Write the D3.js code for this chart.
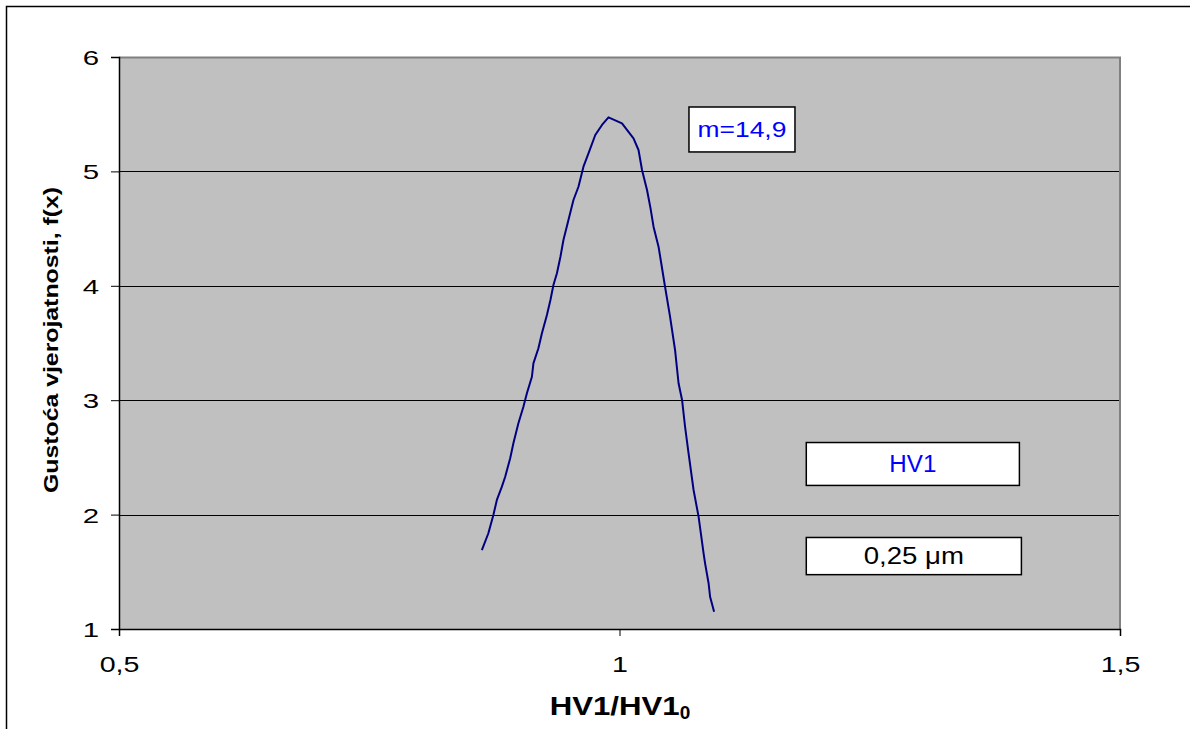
<!DOCTYPE html>
<html>
<head>
<meta charset="utf-8">
<script src="https://cdn.jsdelivr.net/npm/d3@7"></script>
<style>
html,body{margin:0;padding:0;background:#fff;}
svg{display:block;}
text{font-family:"Liberation Sans",Arial,Helvetica,sans-serif;}
</style>
</head>
<body>
<svg id="chart" width="1190" height="729"></svg>
<script>
// ---- data ----
const xTicks = [0.5, 1, 1.5];
const xTickLabels = ["0,5", "1", "1,5"];
const yTicks = [1, 2, 3, 4, 5, 6];
const yTickLabels = ["1", "2", "3", "4", "5", "6"];
const curveX = [0.8625,0.869,0.874,0.8775,0.8825,0.8858,0.8908,0.894,0.899,0.904,0.9075,0.9125,0.914,0.919,0.9225,0.9275,0.931,0.934,0.9375,0.941,0.944,0.949,0.954,0.959,0.964,0.969,0.9758,0.9825,0.989,1.0025,1.014,1.019,1.0225,1.0275,1.031,1.034,1.039,1.0417,1.0455,1.0505,1.0555,1.059,1.0625,1.0655,1.069,1.074,1.079,1.084,1.0855,1.089,1.0905,1.0945];
const curveY = [1.69,1.837,1.997,2.128,2.244,2.331,2.492,2.623,2.798,2.943,3.06,3.205,3.322,3.454,3.585,3.745,3.876,4.007,4.109,4.254,4.40,4.575,4.75,4.866,5.041,5.158,5.318,5.406,5.473,5.42,5.289,5.187,5.012,4.837,4.677,4.517,4.342,4.197,3.992,3.73,3.439,3.148,3.002,2.768,2.536,2.215,1.982,1.662,1.574,1.40,1.282,1.151];
const xTitle = "HV1/HV1";
const xTitleSub = "0";
const yTitle = "Gustoća vjerojatnosti, f(x)";
const boxLabels = ["m=14,9", "HV1", "0,25 \u03bcm"];

// ---- layout ----
const svg = d3.select("#chart");
const pL = 119, pR = 1120, pT = 57, pB = 629;
const x = d3.scaleLinear().domain([0.5, 1.5]).range([pL, pR]);
const y = d3.scaleLinear().domain([1, 6]).range([pB, pT]);

// stretch text horizontally by a factor
function stretch(sel, f) {
  sel.each(function() {
    const n = this.getComputedTextLength();
    d3.select(this).attr("textLength", n * f).attr("lengthAdjust", "spacingAndGlyphs");
  });
}

// outer border
svg.append("rect").attr("x", 6.5).attr("y", 6.5).attr("width", 1300).attr("height", 900)
  .attr("fill", "#fff").attr("stroke", "#000").attr("stroke-width", 1.5);

// plot area
svg.append("rect").attr("x", pL).attr("y", pT).attr("width", pR - pL).attr("height", pB - pT)
  .attr("fill", "#c0c0c0");

// gridlines
svg.append("g").selectAll("line").data(yTicks.slice(1, -1)).join("line")
  .attr("x1", pL).attr("x2", pR)
  .attr("y1", d => Math.round(y(d)) + 0.5).attr("y2", d => Math.round(y(d)) + 0.5)
  .attr("stroke", "#000").attr("stroke-width", 1);

// top / right border (gray)
svg.append("line").attr("x1", pL).attr("x2", pR + 1).attr("y1", pT + 0.5).attr("y2", pT + 0.5)
  .attr("stroke", "#808080").attr("stroke-width", 2);
svg.append("line").attr("x1", pR).attr("x2", pR).attr("y1", pT).attr("y2", pB)
  .attr("stroke", "#808080").attr("stroke-width", 2);

// axes
const yAxis = d3.axisLeft(y).tickValues(yTicks).tickSize(8).tickFormat((d, i) => yTickLabels[i]);
const gy = svg.append("g").attr("transform", `translate(${pL},0)`).call(yAxis);
gy.attr("font-family", null);
gy.select(".domain").attr("stroke", "#000").attr("stroke-width", 1.5);
gy.selectAll(".tick line").attr("stroke", "#000");
gy.selectAll(".tick text").attr("font-size", 21).attr("fill", "#000").attr("x", -20).attr("dy", "0.36em")
  .call(stretch, 1.4);

const xAxis = d3.axisBottom(x).tickValues(xTicks).tickSize(7).tickFormat((d, i) => xTickLabels[i]);
const gx = svg.append("g").attr("transform", `translate(0,${pB})`).call(xAxis);
gx.attr("font-family", null);
gx.select(".domain").attr("stroke", "#000").attr("stroke-width", 1.5);
gx.selectAll(".tick line").attr("stroke", "#000");
gx.selectAll(".tick text").attr("font-size", 22).attr("fill", "#000").attr("y", 27).attr("dy", "0.71em")
  .call(stretch, 1.3);

// curve
const pts = curveX.map((v, i) => [v, curveY[i]]);
svg.append("path").datum(pts)
  .attr("d", d3.line().x(d => x(d[0])).y(d => y(d[1])).curve(d3.curveLinear))
  .attr("fill", "none").attr("stroke", "#000080").attr("stroke-width", 2).attr("stroke-linejoin", "round");

// text boxes
const boxes = [
  {x0: 1.0694, x1: 1.1753, y0: 5.563, y1: 5.17, color: "#0000ff", label: boxLabels[0], fs: 22, f: 1.2},
  {x0: 1.1866, x1: 1.3995, y0: 2.63, y1: 2.255, color: "#0000ff", label: boxLabels[1], fs: 23, f: 1.05},
  {x0: 1.1866, x1: 1.4015, y0: 1.80, y1: 1.475, color: "#000000", label: boxLabels[2], fs: 23, f: 1.2}
];
const bg = svg.append("g").selectAll("g").data(boxes).join("g");
bg.append("rect")
  .attr("x", d => x(d.x0)).attr("y", d => y(d.y0))
  .attr("width", d => x(d.x1) - x(d.x0)).attr("height", d => y(d.y1) - y(d.y0))
  .attr("fill", "#fff").attr("stroke", "#000").attr("stroke-width", 1.5);
bg.append("text")
  .attr("x", d => (x(d.x0) + x(d.x1)) / 2)
  .attr("y", d => (y(d.y0) + y(d.y1)) / 2)
  .attr("dy", "0.36em")
  .attr("text-anchor", "middle").attr("font-size", d => d.fs).attr("fill", d => d.color)
  .text(d => d.label)
  .each(function(d) { d3.select(this).call(stretch, d.f); });

// axis titles
const xt = svg.append("text").attr("x", 620).attr("y", 715).attr("text-anchor", "middle")
  .attr("font-size", 26).attr("font-weight", "bold").attr("fill", "#000");
xt.append("tspan").text(xTitle).attr("textLength", 130).attr("lengthAdjust", "spacingAndGlyphs");
xt.append("tspan").text(xTitleSub).attr("font-size", 19).attr("dy", 4);

svg.append("text").attr("transform", "translate(58,340) rotate(-90)")
  .attr("text-anchor", "middle").attr("font-size", 21).attr("font-weight", "bold").attr("fill", "#000")
  .attr("textLength", 306).attr("lengthAdjust", "spacingAndGlyphs")
  .text(yTitle);
</script>
</body>
</html>
